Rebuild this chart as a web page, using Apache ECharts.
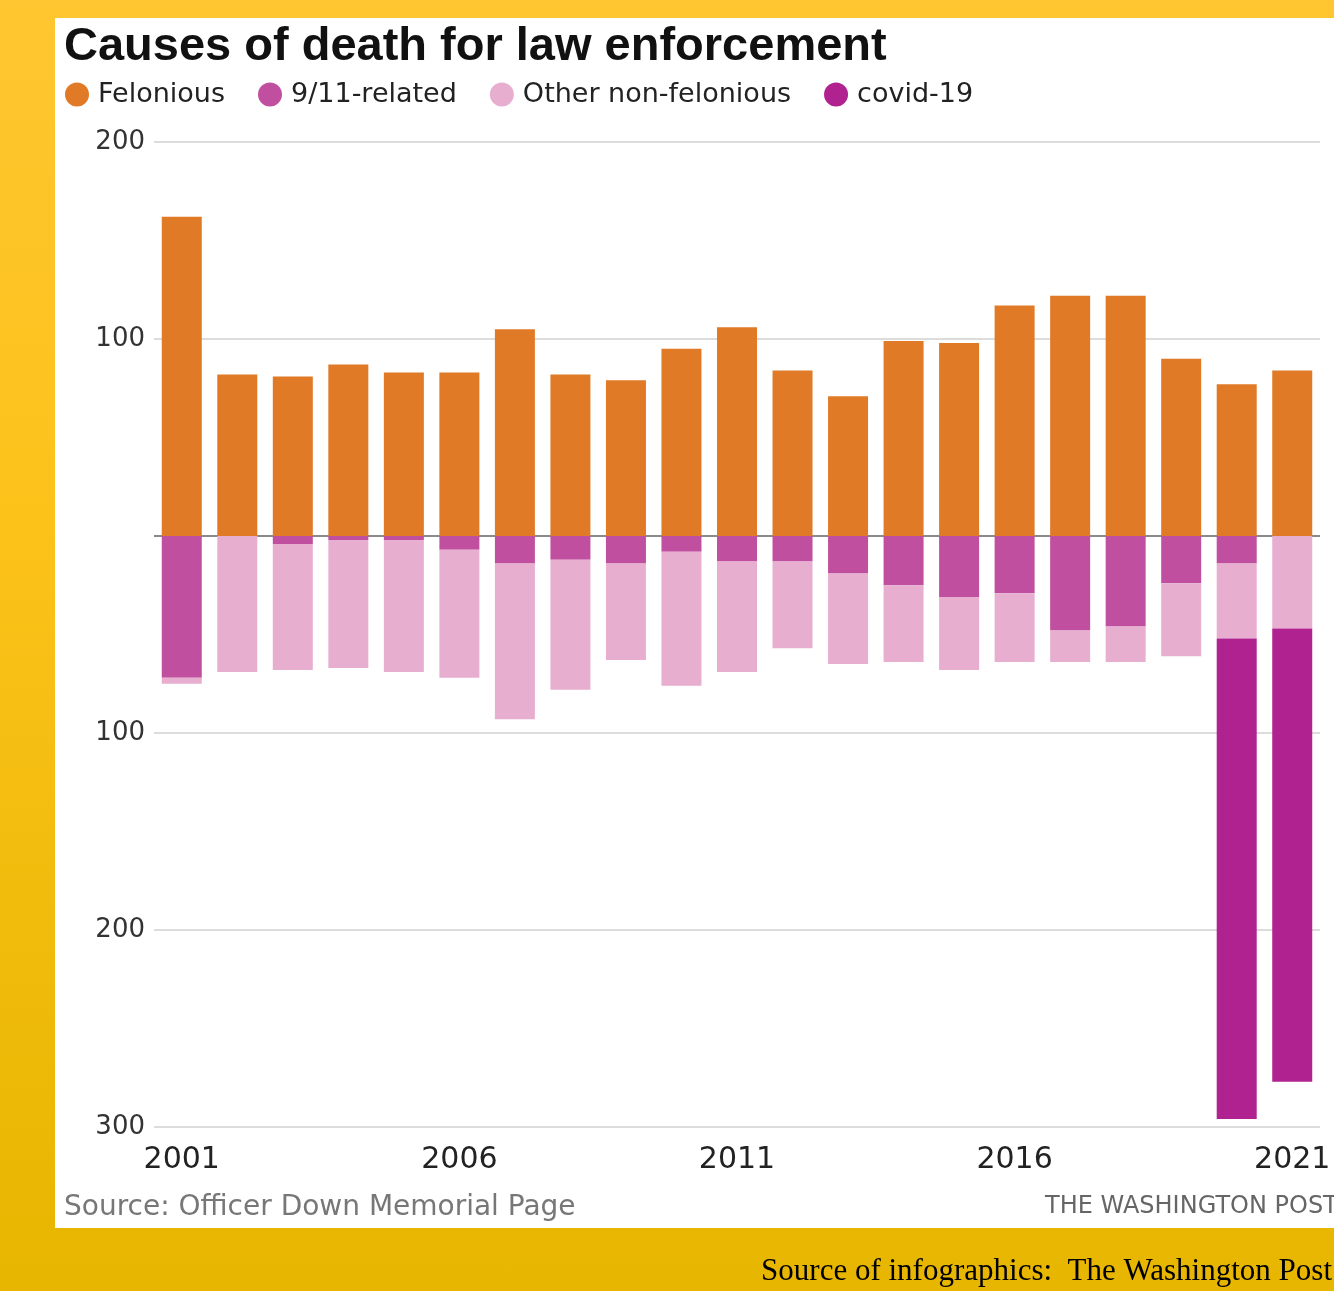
<!DOCTYPE html>
<html>
<head>
<meta charset="utf-8">
<script src="https://cdn.jsdelivr.net/npm/echarts@6/dist/echarts.min.js"></script>
<style>
  html, body { margin: 0; padding: 0; }
  body {
    width: 1334px; height: 1291px; overflow: hidden; position: relative;
    background: linear-gradient(to bottom, #ffc631 0%, #fcc21a 40%, #e7b600 100%);
  }
  #panel { position: absolute; left: 55px; top: 18px; width: 1279px; height: 1210px; background: #fff; }
  #main { position: absolute; left: 0; top: 0; width: 1334px; height: 1291px; }
</style>
</head>
<body>
<div id="panel"></div>
<div id="main"></div>
<script>
var years = ['2001','2002','2003','2004','2005','2006','2007','2008','2009','2010','2011',
             '2012','2013','2014','2015','2016','2017','2018','2019','2020','2021'];
// deaths above the zero line
var felonious = [162, 82, 81, 87, 83, 83, 105, 82, 79, 95, 106, 84, 71, 99, 98, 117, 122, 122, 90, 77, 84];
// deaths below the zero line (drawn downwards)
var nineEleven = [72, 0, 4, 2, 2, 7, 14, 12, 14, 8, 13, 13, 19, 25, 31, 29, 48, 46, 24, 14, 0];
var otherNonFelonious = [3, 69, 64, 65, 67, 65, 79, 66, 49, 68, 56, 44, 46, 39, 37, 35, 16, 18, 37, 38, 47];
var covid = [0, 0, 0, 0, 0, 0, 0, 0, 0, 0, 0, 0, 0, 0, 0, 0, 0, 0, 0, 244, 230];

function down(arr) { return arr.map(function (v) { return -v; }); }

var myChart = echarts.init(document.getElementById('main'));
var font = '"DejaVu Sans", sans-serif';

option = {
    backgroundColor: 'transparent',
    animation: false,
    title: {
        text: 'Causes of death for law enforcement',
        left: 59,
        top: 19,
        textStyle: { fontFamily: '"Liberation Sans", Arial, sans-serif', fontWeight: 'bold', fontSize: 47, color: '#111' }
    },
    legend: {
        data: ['Felonious', '9/11-related', 'Other non-felonious', 'covid-19'],
        left: 60,
        top: 76,
        icon: 'circle',
        itemWidth: 24,
        itemHeight: 24,
        itemGap: 33,
        textStyle: { fontFamily: font, fontSize: 27, color: '#222', padding: [0, 0, 0, 4] }
    },
    grid: { left: 154, right: 14, top: 142, bottom: 164 },
    xAxis: {
        type: 'category',
        data: years,
        axisLine: { show: false, onZero: false },
        axisTick: { show: false },
        axisLabel: { interval: 4, fontFamily: font, fontSize: 30, color: '#222', margin: 18 }
    },
    yAxis: {
        type: 'value',
        min: -300,
        max: 200,
        interval: 100,
        axisLine: { show: false },
        axisTick: { show: false },
        axisLabel: {
            fontFamily: font, fontSize: 26, color: '#333', margin: 9,
            formatter: function (v) { return v === 0 ? '' : Math.abs(v); }
        },
        splitLine: { lineStyle: { color: ['#dcdcdc', '#dcdcdc', '#dcdcdc', '#8a8a8a', '#dcdcdc', '#dcdcdc'], width: 2 } }
    },
    series: [
        { name: 'Felonious', type: 'bar', stack: 'all', barWidth: 40, data: felonious, itemStyle: { color: '#e07a26' } },
        { name: '9/11-related', type: 'bar', stack: 'all', barWidth: 40, data: down(nineEleven), itemStyle: { color: '#c0509f' } },
        { name: 'Other non-felonious', type: 'bar', stack: 'all', barWidth: 40, data: down(otherNonFelonious), itemStyle: { color: '#e7aed0' } },
        { name: 'covid-19', type: 'bar', stack: 'all', barWidth: 40, data: down(covid), itemStyle: { color: '#b0228f' } }
    ],
    graphic: [
        { type: 'text', left: 64, top: 1194, style: { text: 'Source: Officer Down Memorial Page', font: '28px "DejaVu Sans", sans-serif', fill: '#777' } },
        { type: 'text', left: 1045, top: 1195, style: { text: 'THE WASHINGTON POST', font: '24px "DejaVu Sans", sans-serif', fill: '#666' } },
        { type: 'text', right: 2, top: 1256, style: { text: 'Source of infographics:  The Washington Post', font: '31px "Liberation Serif", "Times New Roman", serif', fill: '#000' } }
    ]
};

myChart.setOption(option);
</script>
</body>
</html>
